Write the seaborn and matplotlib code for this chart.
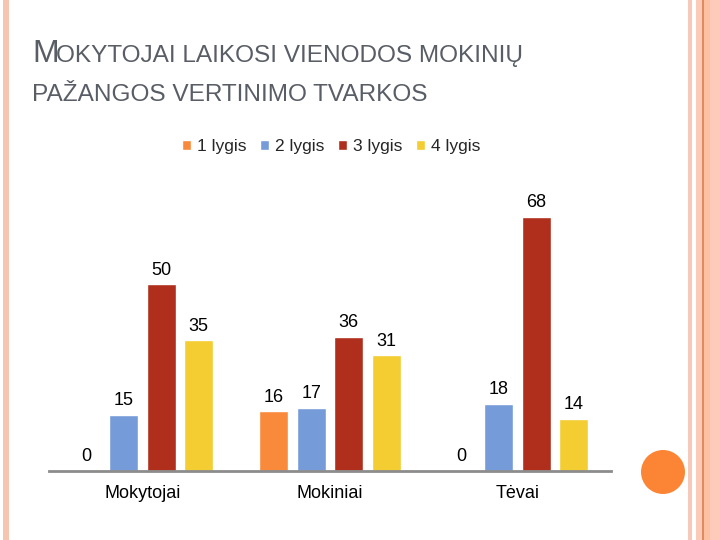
import matplotlib
matplotlib.use("Agg")
import matplotlib.pyplot as plt
import seaborn as sns
import pandas as pd
from matplotlib.patches import Rectangle, Ellipse

categories = ["Mokytojai", "Mokiniai", "Tėvai"]
levels = ["1 lygis", "2 lygis", "3 lygis", "4 lygis"]
lygis1 = [0, 16, 0]
lygis2 = [15, 17, 18]
lygis3 = [50, 36, 68]
lygis4 = [35, 31, 14]
colors = ["#F98A3B", "#769BD9", "#B02F1C", "#F3CD31"]

rows = []
for lvl, vals in zip(levels, [lygis1, lygis2, lygis3, lygis4]):
    for cat, v in zip(categories, vals):
        rows.append({"cat": cat, "lvl": lvl, "val": v})
df = pd.DataFrame(rows)

sns.set_theme(style="white")
plt.rcParams["font.family"] = ["Liberation Sans", "DejaVu Sans"]

fig = plt.figure(figsize=(7.2, 5.4), dpi=100)
fig.patch.set_facecolor("white")

W, H = 720, 540
base_px = 471
ymax = 80
px_per_unit = 3.735
top_px = base_px - ymax * px_per_unit
ax = fig.add_axes([48.75 / W, (H - base_px) / H, 562.5 / W, (base_px - top_px) / H])

sns.barplot(data=df, x="cat", y="val", hue="lvl", order=categories, hue_order=levels,
            palette=colors, width=0.8, gap=0.22, ax=ax, legend=True, saturation=1)
ax.set_ylim(0, ymax)
ax.set_xlim(-0.5, 2.5)
for c in ax.containers:
    ax.bar_label(c, padding=4, fontsize=13, color="black")
ax.set_xlabel("")
ax.set_ylabel("")
ax.set_yticks([])
ax.tick_params(axis="x", length=0, labelsize=13, pad=10, colors="black")
for s in ["top", "left", "right"]:
    ax.spines[s].set_visible(False)
ax.spines["bottom"].set_color("#8c8c8c")
ax.spines["bottom"].set_linewidth(2)
ax.patch.set_alpha(0)

handles, labels = ax.get_legend_handles_labels()
ax.get_legend().remove()
fig.legend(handles, labels, loc="center", bbox_to_anchor=(331 / W, 1 - 147 / H), ncol=4,
           frameon=False, fontsize=12.5, handlelength=0.5, handleheight=0.5,
           handletextpad=0.35, columnspacing=0.8)

# Title (small caps style)
tcol = "#595d66"
fig.text(32 / W, 1 - 62 / H, "M", fontsize=23, color=tcol, va="baseline", ha="left")
fig.text(56 / W, 1 - 62 / H, "OKYTOJAI LAIKOSI VIENODOS MOKINIŲ", fontsize=17.6,
         color=tcol, va="baseline", ha="left")
fig.text(32 / W, 1 - 101 / H, "PAŽANGOS VERTINIMO TVARKOS", fontsize=17.6, color=tcol,
         va="baseline", ha="left")

# Decorative slide elements
def rect(x0, x1, color):
    fig.add_artist(Rectangle((x0 / W, 0), (x1 - x0) / W, 1, transform=fig.transFigure,
                             facecolor=color, edgecolor="none"))

rect(3, 9, "#F7C4AF")
rect(688, 692, "#F7C9B8")
rect(696, 702, "#FCCBB8")
rect(702, 703.5, "#E08A62")
rect(703.5, 710, "#FDC0A3")
rect(710, 720, "#FECABA")
fig.add_artist(Ellipse((663 / W, 1 - 472 / H), 44 / W, 44 / H, transform=fig.transFigure,
                       facecolor="#FB8535", edgecolor="none"))

fig.savefig("out.png", dpi=100)
